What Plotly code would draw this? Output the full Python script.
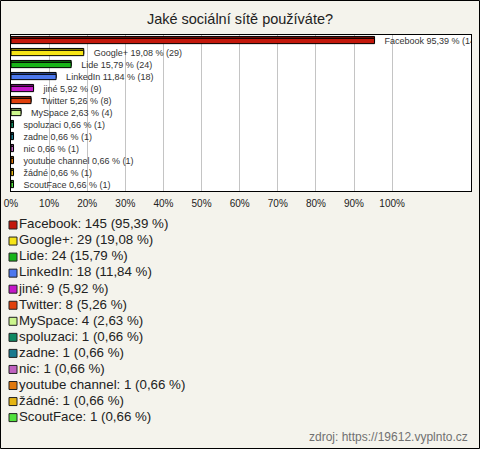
import plotly.graph_objects as go

categories = ["Facebook", "Google+", "Lide", "LinkedIn", "jiné", "Twitter", "MySpace",
              "spoluzaci", "zadne", "nic", "youtube channel", "žádné", "ScoutFace"]
counts = [145, 29, 24, 18, 9, 8, 4, 1, 1, 1, 1, 1, 1]
percents = [95.39, 19.08, 15.79, 11.84, 5.92, 5.26, 2.63, 0.66, 0.66, 0.66, 0.66, 0.66, 0.66]
colors = ["#c3180c", "#f6e416", "#18b418", "#4c78ee", "#c418c8", "#e0400c", "#ccf68c",
          "#108a62", "#1a7a8e", "#c062c0", "#e0780c", "#e4b412", "#52e23c"]
shadows = ["#7a0e06", "#9a8e0c", "#0e700e", "#2c4a96", "#7a0e7e", "#8c2806", "#7e9a56",
           "#0a563c", "#104c58", "#783c78", "#8c4a06", "#8e700a", "#328e24"]
tick_vals = [0, 10, 20, 30, 40, 50, 60, 70, 80, 90, 100]
tick_text = [f"{v}%" for v in tick_vals]

def fmt(v):
    return f"{v:.2f}".replace(".", ",")

W, H = 480, 449
L, R, T, B = 11, 471, 35, 191

fig = go.Figure()
for cat, c, p, col, sh in zip(categories, counts, percents, colors, shadows):
    fig.add_trace(go.Bar(
        y=[cat], x=[p], orientation="h", offset=-0.38, width=0.44,
        marker=dict(color=sh, line=dict(color="#000000", width=1)),
        showlegend=False, hoverinfo="skip"))
    fig.add_trace(go.Bar(
        y=[cat], x=[p], orientation="h", offset=-0.22, width=0.44,
        marker=dict(color=col, line=dict(color="#000000", width=1)),
        showlegend=False,
        text=[f"    {cat} {fmt(p)} % ({c})"], textposition="outside",
        textfont=dict(size=9, color="#333333", family="Liberation Sans"),
        cliponaxis=True, constraintext="none"))

# legend drawn as a marker+text trace on its own axes
legend_labels = [f"{cat}: {c} ({fmt(p)} %)" for cat, c, p in zip(categories, counts, percents)]
fig.add_trace(go.Scatter(
    x=[0] * len(categories), y=list(range(len(categories))),
    xaxis="x2", yaxis="y2", mode="markers+text",
    marker=dict(symbol="square", size=8, color=colors, line=dict(color="#222222", width=1)),
    text=legend_labels, textposition="middle right",
    textfont=dict(size=13.3, color="#222222", family="Liberation Sans"),
    showlegend=False, hoverinfo="skip", cliponaxis=False))

fig.update_layout(
    width=W, height=H,
    margin=dict(l=0, r=0, t=0, b=0, autoexpand=False),
    paper_bgcolor="#f4f3ec", plot_bgcolor="rgba(0,0,0,0)",
    barmode="overlay",
    font=dict(family="Liberation Sans", color="#222222"),
    title=dict(text="Jaké sociální sítě používáte?", x=0.5, xanchor="center",
               y=1 - 19 / H, yanchor="middle",
               font=dict(size=14.5, color="#222222")),
    xaxis=dict(domain=[L / W, R / W], range=[0, 120.7], tickvals=tick_vals, ticktext=tick_text,
               showgrid=True, gridcolor="#c4c4c4", gridwidth=1,
               showline=True, linecolor="#000000", linewidth=1, mirror=True,
               zeroline=False, ticks="outside", ticklen=3, tickcolor="rgba(0,0,0,0)",
               tickfont=dict(size=10, color="#222222")),
    yaxis=dict(domain=[1 - B / H, 1 - T / H], categoryorder="array", categoryarray=categories,
               autorange="reversed",
               showticklabels=False, showline=True, linecolor="#000000", linewidth=1,
               mirror=True, showgrid=False, ticks=""),
    xaxis2=dict(domain=[0, 1], range=[-13, 467], visible=False, fixedrange=True),
    yaxis2=dict(domain=[0, 1], range=[(449 - 225) / 16.05, -225 / 16.05], visible=False,
                fixedrange=True),
    showlegend=False,
)

fig.add_shape(type="rect", xref="x", yref="paper", x0=0, x1=120.7,
              y0=1 - B / H, y1=1 - T / H, fillcolor="#ffffff", line=dict(width=0), layer="below")

fig.add_annotation(text="zdroj: https://19612.vyplnto.cz", xref="paper", yref="paper",
                   x=470 / W, y=1 - 437 / H, xanchor="right", yanchor="middle",
                   showarrow=False, font=dict(size=12, color="#707070"))

fig.add_shape(type="rect", xref="paper", yref="paper",
              x0=0.5 / W, x1=479.5 / W, y0=0.5 / H, y1=1 - 0.5 / H,
              line=dict(color="#000000", width=1), fillcolor="rgba(0,0,0,0)", layer="above")

fig.write_html("out.html", config={"displayModeBar": False},
               post_script="document.body.style.margin='0';")
